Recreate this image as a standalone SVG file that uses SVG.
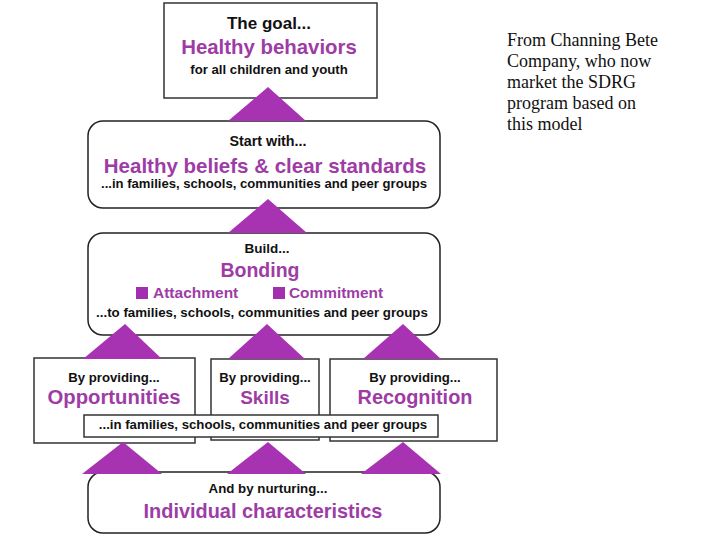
<svg xmlns="http://www.w3.org/2000/svg" width="720" height="540" viewBox="0 0 720 540">
<style>
.box{fill:#fff;stroke:#333;stroke-width:1.5}
.rbox{fill:#fff;stroke:#222;stroke-width:1.5}
.k{font-family:"Liberation Sans",Arial,sans-serif;font-weight:bold;fill:#111;text-anchor:middle}
.p{font-family:"Liberation Sans",Arial,sans-serif;font-weight:bold;fill:#9e3ca6;text-anchor:middle}
.ps{font-family:"Liberation Sans",Arial,sans-serif;font-weight:bold;fill:#9e3ca6}
.tri{fill:#a833b2}
.sq{fill:#a22fb0}
.note{font-family:"Liberation Serif","Times New Roman",serif;font-size:18px;fill:#111}
</style>
<rect width="720" height="540" fill="#fff"/>
<g id="goal">
<rect class="box" x="164" y="3" width="213" height="95"/>
<text class="k" x="269" y="29" font-size="17">The goal...</text>
<text class="p" x="269" y="54" font-size="20.4">Healthy behaviors</text>
<text class="k" x="269" y="74" font-size="13.2">for all children and youth</text>
</g>
<g id="beliefs">
<rect class="rbox" x="88" y="121" width="352" height="87" rx="15"/>
<text class="k" x="268" y="146" font-size="14.3">Start with...</text>
<text class="p" x="265" y="173" font-size="20.5">Healthy beliefs &amp; clear standards</text>
<text class="k" x="264" y="188" font-size="13.1">...in families, schools, communities and peer groups</text>
</g>
<g id="bonding">
<rect class="rbox" x="88" y="233" width="352" height="102" rx="15"/>
<text class="k" x="267" y="253" font-size="13.5">Build...</text>
<text class="p" x="260" y="277" font-size="19.5">Bonding</text>
<rect class="sq" x="136" y="287" width="12" height="12"/>
<text class="ps" x="153" y="298" font-size="15.5">Attachment</text>
<rect class="sq" x="273" y="287" width="12" height="12"/>
<text class="ps" x="289" y="298" font-size="15.4">Commitment</text>
<text class="k" x="262" y="317" font-size="13.3">...to families, schools, communities and peer groups</text>
</g>
<g id="opportunities">
<rect class="box" x="34" y="358" width="161" height="85"/>
<text class="k" x="114" y="382" font-size="13.2">By providing...</text>
<text class="p" x="114" y="404" font-size="20.3">Opportunities</text>
</g>
<g id="skills">
<rect class="box" x="211" y="359" width="108" height="81"/>
<text class="k" x="265" y="382" font-size="13.2">By providing...</text>
<text class="p" x="265" y="404" font-size="19">Skills</text>
</g>
<g id="recognition">
<rect class="box" x="330" y="359" width="167" height="82"/>
<text class="k" x="415" y="382" font-size="13.2">By providing...</text>
<text class="p" x="415" y="404" font-size="19.9">Recognition</text>
</g>
<g id="settings">
<rect class="box" x="84" y="415" width="354" height="22"/>
<text class="k" x="263" y="429" font-size="13.2">...in families, schools, communities and peer groups</text>
</g>
<g id="individual">
<rect class="rbox" x="88" y="472" width="352" height="61" rx="15"/>
<text class="k" x="268" y="493" font-size="13.3">And by nurturing...</text>
<text class="p" x="263" y="518" font-size="19.9">Individual characteristics</text>
</g>
<g id="connectors">
<polygon class="tri" points="228,121 306,121 268,87"/>
<polygon class="tri" points="228,233 307,233 268,199"/>
<polygon class="tri" points="83,359 162,359 125,324"/>
<polygon class="tri" points="228,359 305,359 267,324"/>
<polygon class="tri" points="363,359 441,359 403,324"/>
<polygon class="tri" points="82,474 162,474 123,442"/>
<polygon class="tri" points="227,474 306,474 268,442"/>
<polygon class="tri" points="361,474 441,474 403,442"/>
</g>
<g id="note">
<text class="note" x="507" y="46">From Channing Bete</text>
<text class="note" x="507" y="67">Company, who now</text>
<text class="note" x="507" y="88">market the SDRG</text>
<text class="note" x="507" y="109">program based on</text>
<text class="note" x="507" y="130">this model</text>
</g>
</svg>
